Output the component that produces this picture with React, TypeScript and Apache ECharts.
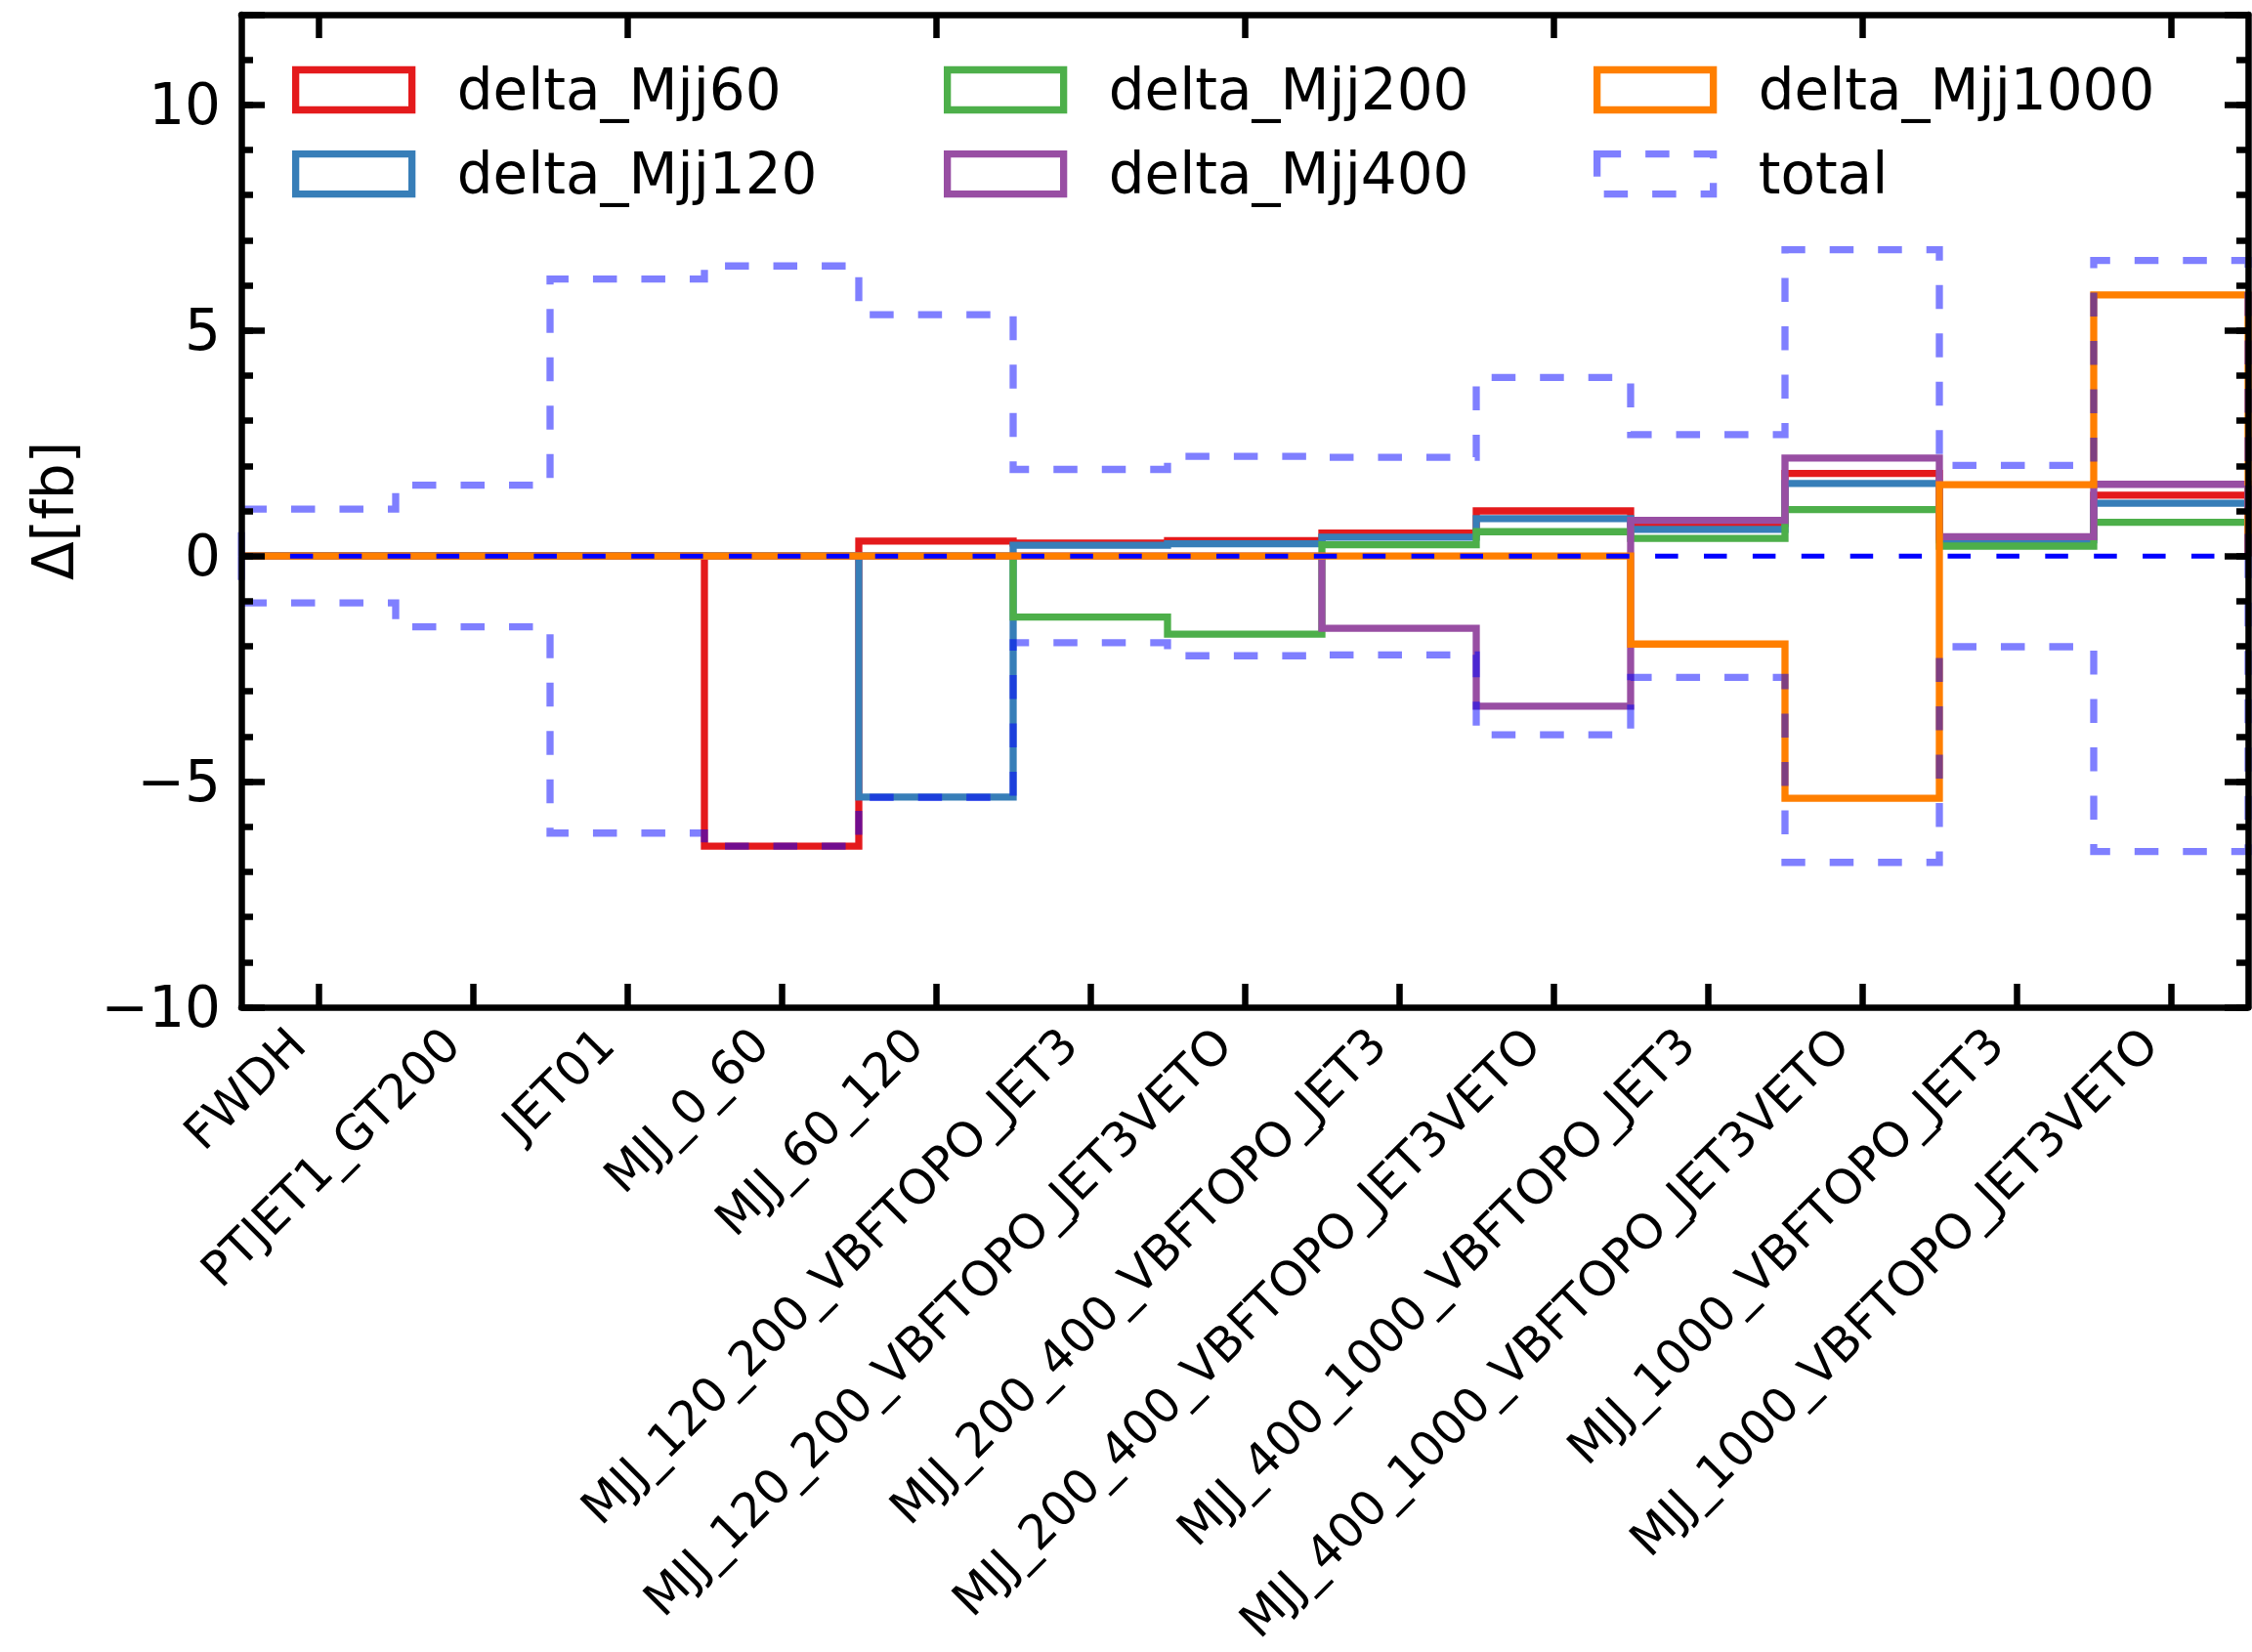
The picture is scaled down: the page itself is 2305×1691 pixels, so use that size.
import React, { useEffect, useRef } from 'react';
import * as echarts from 'echarts';

// Analysis bins shown on the x axis
const categories = [
  'FWDH',
  'PTJET1_GT200',
  'JET01',
  'MJJ_0_60',
  'MJJ_60_120',
  'MJJ_120_200_VBFTOPO_JET3',
  'MJJ_120_200_VBFTOPO_JET3VETO',
  'MJJ_200_400_VBFTOPO_JET3',
  'MJJ_200_400_VBFTOPO_JET3VETO',
  'MJJ_400_1000_VBFTOPO_JET3',
  'MJJ_400_1000_VBFTOPO_JET3VETO',
  'MJJ_1000_VBFTOPO_JET3',
  'MJJ_1000_VBFTOPO_JET3VETO',
];

// Shift of each bin (fb) for every Mjj variation
const deltaMjj60 = [0, 0, 0, -6.43, 0.33, 0.29, 0.34, 0.51, 1.0, 0.72, 1.83, 0.42, 1.35];
const deltaMjj120 = [0, 0, 0, 0, -5.34, 0.24, 0.27, 0.42, 0.83, 0.59, 1.61, 0.36, 1.17];
const deltaMjj200 = [0, 0, 0, 0, 0, -1.35, -1.73, 0.25, 0.54, 0.39, 1.03, 0.22, 0.75];
const deltaMjj400 = [0, 0, 0, 0, 0, 0, 0, -1.6, -3.33, 0.79, 2.17, 0.43, 1.59];
const deltaMjj1000 = [0, 0, 0, 0, 0, 0, 0, 0, 0, -1.95, -5.37, 1.58, 5.79];
// Total uncertainty, drawn as a symmetric +/- envelope
const total = [1.04, 1.57, 6.14, 6.43, 5.35, 1.92, 2.21, 2.19, 3.96, 2.69, 6.79, 2.01, 6.55];

const yTickLabels = [-10, -5, 0, 5, 10];

const FONT = 'DejaVu Sans';
const TOTAL_COLOR = 'rgba(0,0,255,0.5)';
const LINE_W = 7.3;

// Outline of a step histogram: starts and ends on the zero baseline
function stepOutline(values: number[]): [number, number][] {
  const pts: [number, number][] = [[0, 0]];
  values.forEach((v, i) => {
    pts.push([i, v]);
    pts.push([i + 1, v]);
  });
  pts.push([values.length, 0]);
  return pts;
}

function stepSeries(name: string, values: number[], color: string, dash?: number[]) {
  return {
    type: 'line',
    name,
    data: stepOutline(values),
    xAxisIndex: 2,
    yAxisIndex: 0,
    symbol: 'none',
    showSymbol: false,
    silent: true,
    animation: false,
    itemStyle: { color },
    lineStyle: { color, width: LINE_W, type: dash ? dash : 'solid', cap: 'butt', join: 'miter' },
    emphasis: { disabled: true },
  };
}

const fmtTick = (v: number) => {
  if (!yTickLabels.includes(v)) return '';
  return v < 0 ? '\u2212' + Math.abs(v) : String(v);
};

const legendText = {
  fontSize: 58,
  fontFamily: FONT,
  color: '#000',
  padding: [0, 0, 0, 41],
};

function legendItem(name: string, color: string, dashed = false) {
  return {
    name,
    icon: 'rect',
    itemStyle: {
      color: 'rgba(0,0,0,0)',
      borderColor: color,
      borderWidth: LINE_W,
      borderType: dashed ? [24.5, 25] : 'solid',
    },
  };
}

function legendColumn(left: number, items: any[]) {
  return {
    orient: 'vertical',
    left,
    top: 63,
    padding: 0,
    itemWidth: 119,
    itemHeight: 41,
    itemGap: 28.2,
    selectedMode: false,
    textStyle: legendText,
    data: items,
  };
}

const majorY = (position: 'left' | 'right', labels: boolean) => ({
  type: 'value',
  position,
  min: -10,
  max: 12,
  interval: 5,
  z: 10,
  axisLine: { show: true, onZero: false, lineStyle: { color: '#000', width: 6.5 } },
  axisTick: { show: true, inside: true, length: 24, lineStyle: { color: '#000', width: 6.5 } },
  axisLabel: labels
    ? { show: true, formatter: fmtTick, fontSize: 58, fontFamily: FONT, color: '#000', margin: 21 }
    : { show: false },
  splitLine: { show: false },
});

const minorY = (position: 'left' | 'right') => ({
  type: 'value',
  position,
  min: -10,
  max: 12,
  interval: 1,
  z: 10,
  axisLine: { show: false },
  axisTick: { show: true, inside: true, length: 12, lineStyle: { color: '#000', width: 6.5 } },
  axisLabel: { show: false },
  splitLine: { show: false },
});

const catX = (position: 'bottom' | 'top', labels: boolean) => ({
  type: 'category',
  position,
  data: categories,
  boundaryGap: true,
  z: 10,
  axisLine: { show: true, onZero: false, lineStyle: { color: '#000', width: 6.5 } },
  axisTick: { show: true, inside: true, alignWithLabel: true, length: 24, lineStyle: { color: '#000', width: 6.5 } },
  axisLabel: labels
    ? {
        show: true,
        interval: 0,
        rotate: 45,
        hideOverlap: false,
        fontSize: 49,
        fontFamily: FONT,
        color: '#000',
        margin: 8,
        padding: [0, 31, 0, 0],
      }
    : { show: false },
  splitLine: { show: false },
});

const option = {
  animation: false,
  backgroundColor: '#ffffff',
  textStyle: { fontFamily: FONT },
  grid: {
    left: 247,
    top: 15,
    width: 2054,
    height: 1016,
    containLabel: false,
    outerBoundsMode: 'none',
  },
  xAxis: [
    catX('bottom', true),
    catX('top', false),
    { type: 'value', position: 'bottom', min: 0, max: categories.length, show: false },
  ],
  yAxis: [
    {
      ...majorY('left', true),
      name: '\u0394[fb]',
      nameLocation: 'middle',
      nameRotate: 90,
      nameGap: 163,
      nameTextStyle: { fontSize: 58, fontFamily: FONT, color: '#000' },
    },
    minorY('left'),
    majorY('right', false),
    minorY('right'),
  ],
  legend: [
    legendColumn(299, [legendItem('delta_Mjj60', '#e41a1c'), legendItem('delta_Mjj120', '#377eb8')]),
    legendColumn(966, [legendItem('delta_Mjj200', '#4daf4a'), legendItem('delta_Mjj400', '#984ea3')]),
    legendColumn(1631, [legendItem('delta_Mjj1000', '#ff7f00'), legendItem('total', TOTAL_COLOR, true)]),
  ],
  series: [
    stepSeries('delta_Mjj60', deltaMjj60, '#e41a1c'),
    stepSeries('delta_Mjj120', deltaMjj120, '#377eb8'),
    stepSeries('delta_Mjj200', deltaMjj200, '#4daf4a'),
    stepSeries('delta_Mjj400', deltaMjj400, '#984ea3'),
    stepSeries('delta_Mjj1000', deltaMjj1000, '#ff7f00'),
    stepSeries('total', total, TOTAL_COLOR, [24.5, 25]),
    stepSeries('total', total.map((v) => -v), TOTAL_COLOR, [24.5, 25]),
    {
      type: 'line',
      name: 'zero',
      data: [
        [0, 0],
        [categories.length, 0],
      ],
      xAxisIndex: 2,
      yAxisIndex: 0,
      symbol: 'none',
      silent: true,
      lineStyle: { color: '#0000ff', width: 5, type: [23.5, 26.4], cap: 'butt' },
      emphasis: { disabled: true },
    },
  ],
};

export default function App() {
  const ref = useRef<HTMLDivElement>(null);
  useEffect(() => {
    if (!ref.current) return;
    const chart = echarts.init(ref.current, null, { renderer: 'svg' });
    chart.setOption(option as any);
    return () => chart.dispose();
  }, []);
  return (
    <div
      ref={ref}
      style={{ position: 'fixed', left: 0, top: 0, width: 2305, height: 1691, background: '#fff' }}
    />
  );
}
